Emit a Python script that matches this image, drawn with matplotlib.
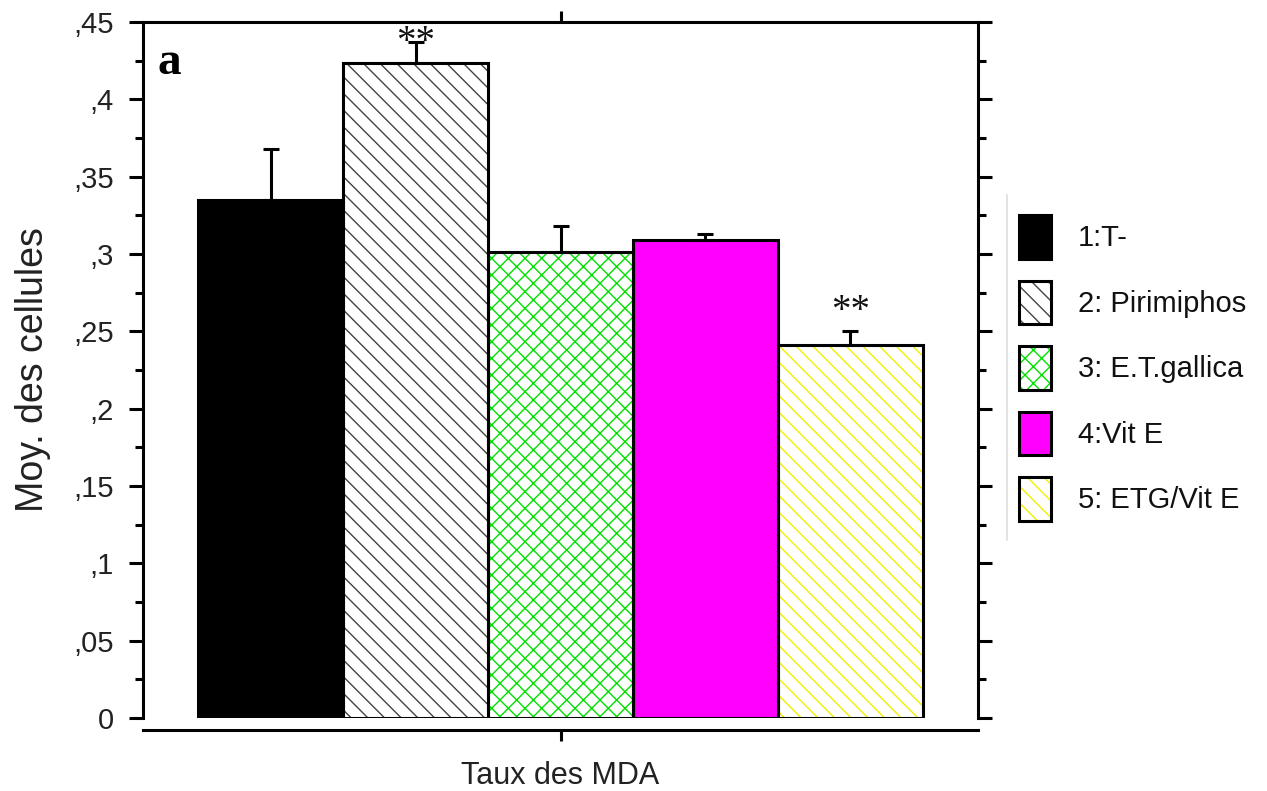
import matplotlib
matplotlib.use("Agg")
import matplotlib.pyplot as plt
from matplotlib.patches import Patch
from matplotlib.lines import Line2D
from matplotlib.legend_handler import HandlerTuple
import numpy as np

plt.rcParams['font.family'] = ['Liberation Sans', 'DejaVu Sans']
plt.rcParams['hatch.linewidth'] = 1.0

categories = ['1:T-', '2: Pirimiphos', '3: E.T.gallica', '4:Vit E', '5: ETG/Vit E']
means = [0.335, 0.4235, 0.301, 0.309, 0.241]
errors = [0.033, 0.0135, 0.017, 0.004, 0.009]
signif = ['', '**', '', '', '**']
signif_y = [None, 0.425, None, None, 0.251]
ytick_vals = [0, 0.05, 0.1, 0.15, 0.2, 0.25, 0.3, 0.35, 0.4, 0.45]
ytick_labels = ['0', ',05', ',1', ',15', ',2', ',25', ',3', ',35', ',4', ',45']

facecolors = ['#000000', '#ffffff', '#ffffff', '#ff00ff', '#ffffff']
hatchcolors = ['#000000', '#444444', '#00e000', '#000000', '#f0f000']
hatches = [None, '\\\\', 'xx', None, '\\\\']

fig = plt.figure(figsize=(12.67, 7.91), dpi=100)
ax = fig.add_axes([143/1267, 1-718/791, (978-143)/1267, (718-22)/791])

x = np.arange(len(means))
for i in range(len(means)):
    ax.bar(x[i], means[i], width=1.0, color=facecolors[i],
           edgecolor=hatchcolors[i], hatch=hatches[i], linewidth=0, zorder=2)
    ax.bar(x[i], means[i], width=1.0, fill=False, edgecolor='black',
           linewidth=2.2, zorder=3)

ax.errorbar(x, means, yerr=[np.zeros(len(errors)), errors], fmt='none',
            ecolor='black', elinewidth=2.2, capsize=5.5, capthick=2.2, zorder=4)

for i, s in enumerate(signif):
    if s:
        ax.text(x[i], signif_y[i], s, ha='center', va='bottom', fontsize=28,
                family=['Liberation Serif', 'DejaVu Serif'], color='#111111', zorder=5)

ax.text(-0.78, 0.4235, 'a', fontsize=34, fontweight='bold',
        family=['Liberation Serif', 'DejaVu Serif'], va='center', ha='left')

ax.set_xlim(-0.88, 4.88)
ax.set_ylim(0, 0.45)
ax.set_yticks(ytick_vals)
ax.set_yticklabels(ytick_labels, fontsize=21, color='#222222')
ax.set_yticks(np.arange(0.025, 0.45, 0.05), minor=True)
ax.tick_params(axis='y', which='major', direction='out', length=10, width=2.2,
               left=True, right=True, pad=11)
ax.tick_params(axis='y', which='minor', direction='out', length=6, width=2.2,
               left=True, right=True)
ax.set_xticks([2])
ax.set_xticklabels([''])
ax.tick_params(axis='x', which='major', direction='out', length=8, width=2.2,
               top=True, bottom=True)
ax.tick_params(axis='x', which='minor', bottom=False, top=False)

for sp in ax.spines.values():
    sp.set_linewidth(2.2)
ax.spines['bottom'].set_position(('outward', 8.6))

ax.set_ylabel('Moy. des cellules', fontsize=27, labelpad=16, color='#222222')
ax.set_xlabel('Taux des MDA', fontsize=22, labelpad=11, color='#222222')

handles = [(Patch(facecolor=facecolors[i], edgecolor=hatchcolors[i], hatch=hatches[i],
                  linewidth=0),
            Patch(fill=False, edgecolor='black', linewidth=2.2))
           for i in range(len(means))]
leg = fig.legend(handles, categories, loc='center left',
                 bbox_to_anchor=(1004/1267, 1-368/791), frameon=False,
                 fontsize=21, handlelength=1.12, handleheight=1.94,
                 labelspacing=0.74, handletextpad=0.92, borderpad=0,
                 handler_map={tuple: HandlerTuple(ndivide=1, pad=0)})
for t in leg.get_texts():
    t.set_color('#111111')

fig.add_artist(Line2D([1007/1267, 1007/1267], [1-195/791, 1-540/791],
                      color='#dddddd', linewidth=1.2, transform=fig.transFigure))

fig.savefig('out.png', dpi=100)
